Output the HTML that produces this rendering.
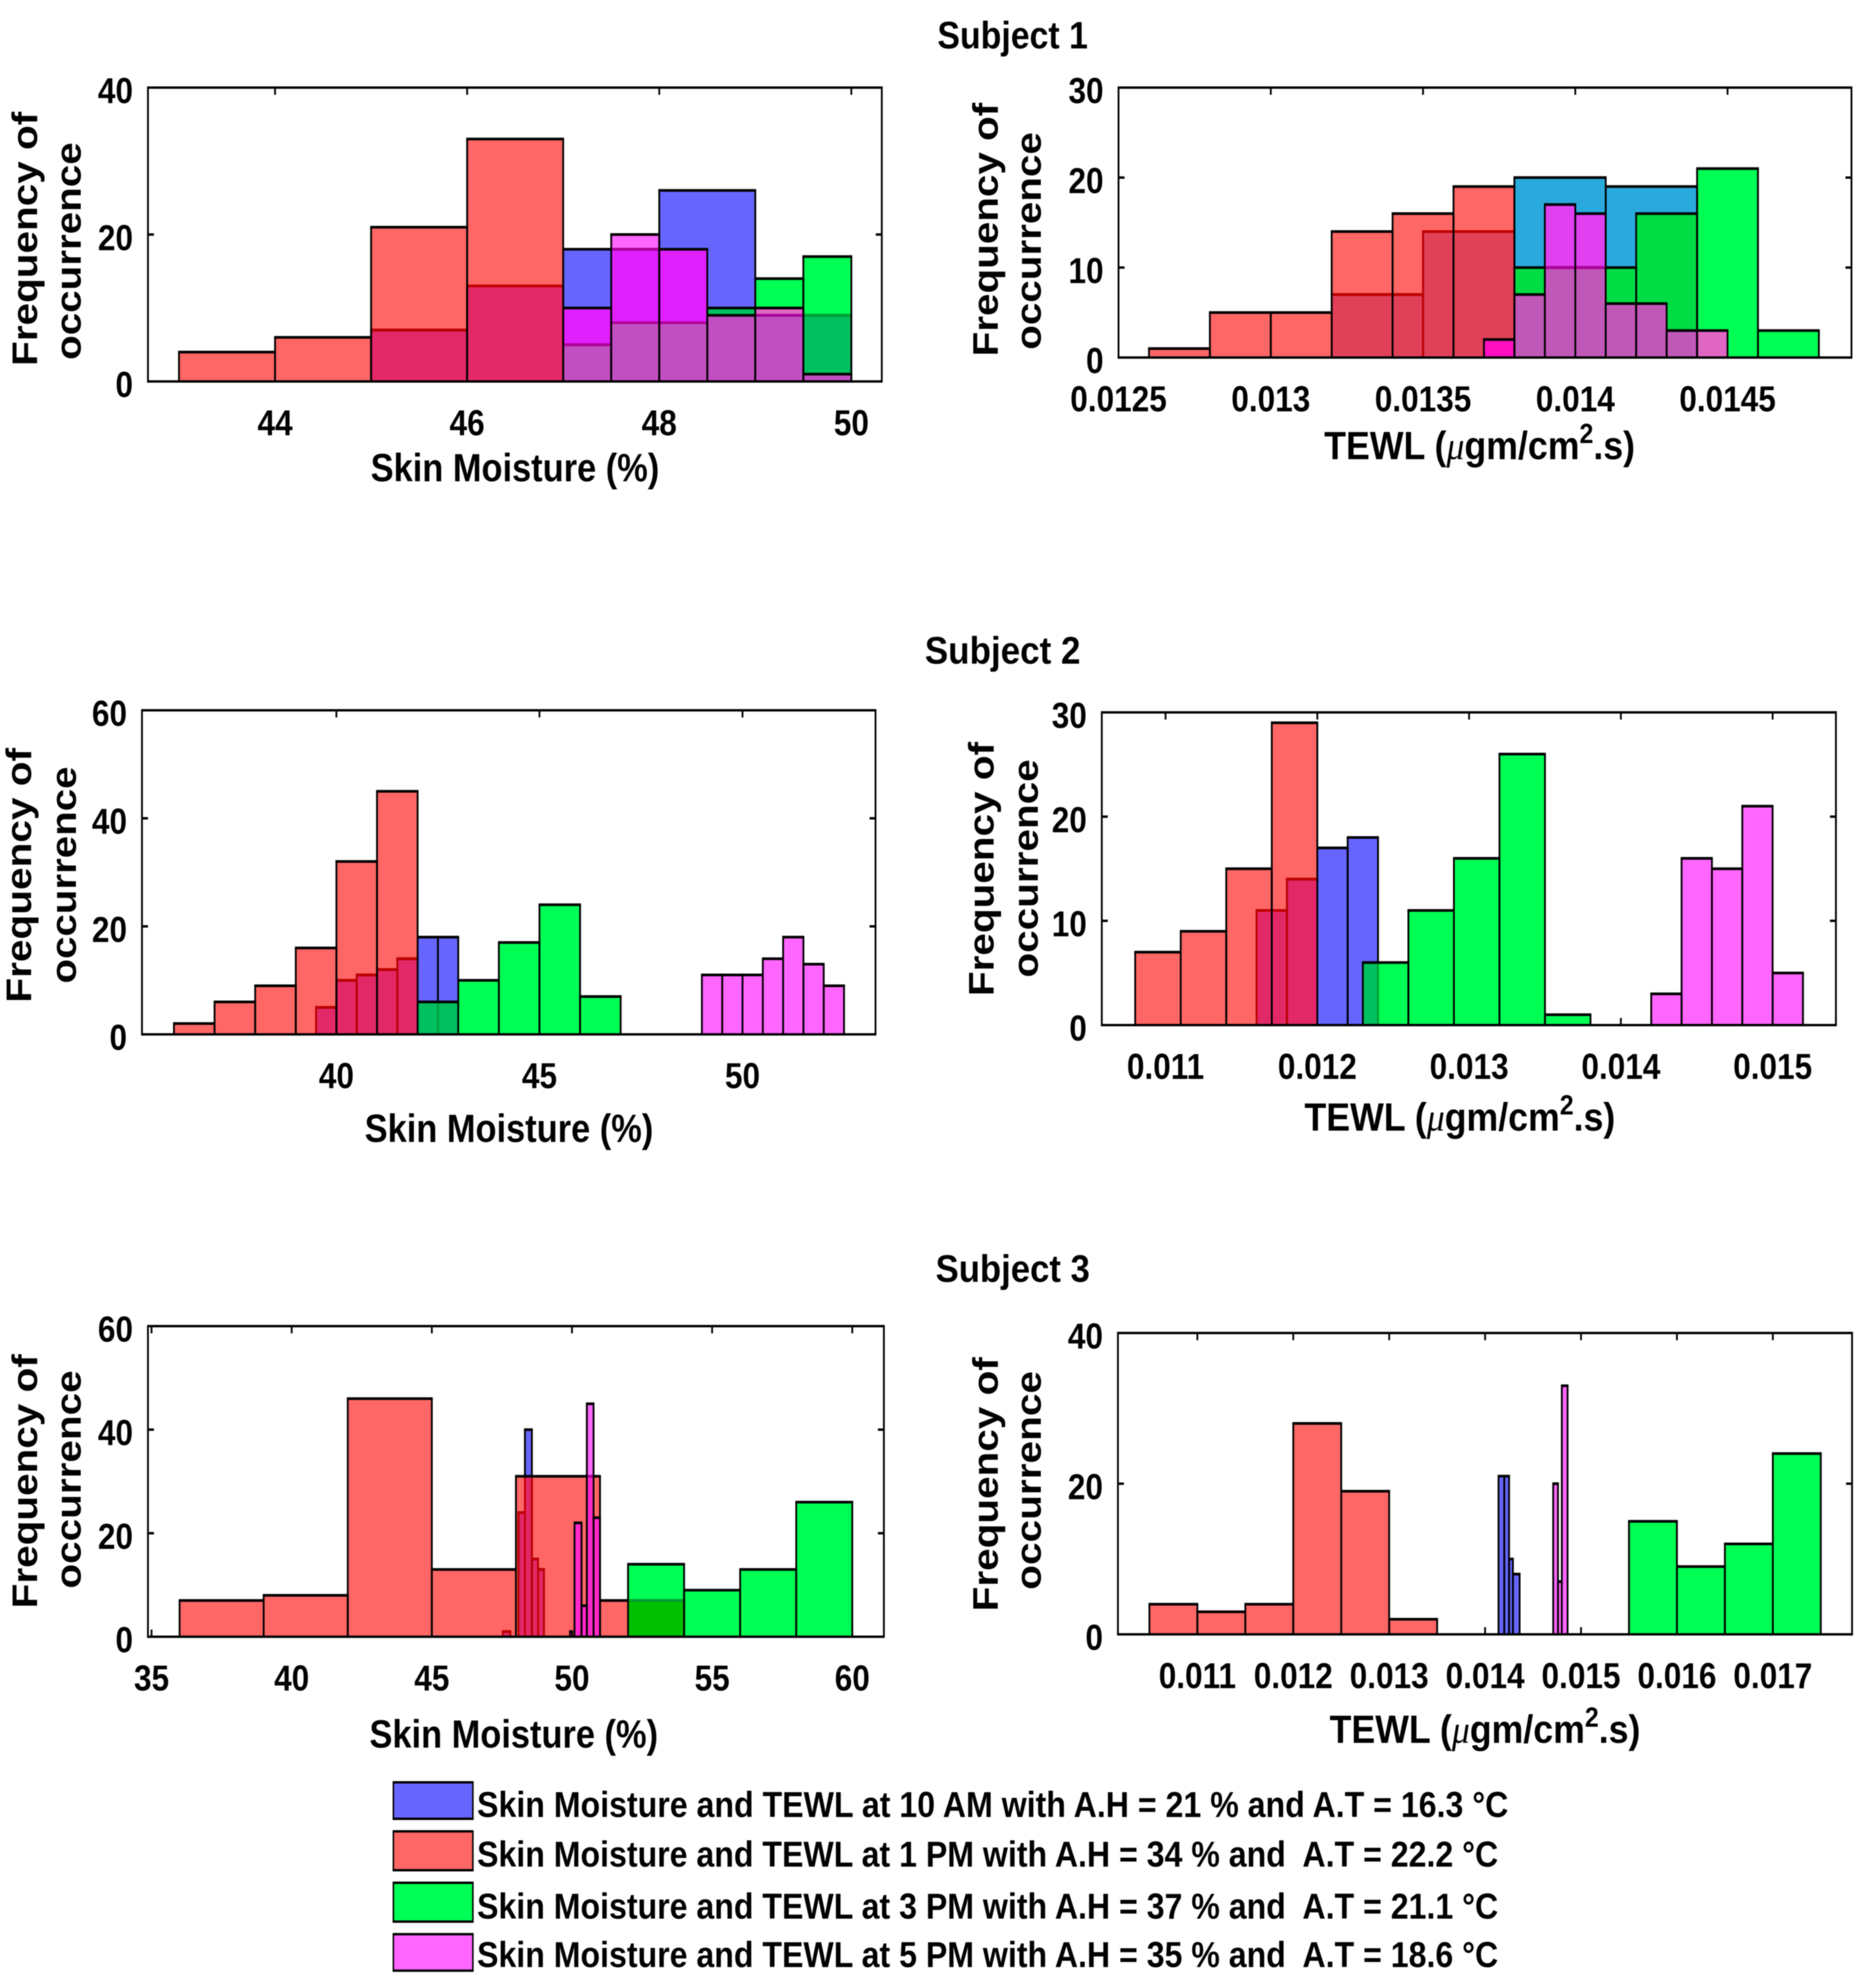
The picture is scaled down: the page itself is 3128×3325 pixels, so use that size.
<!DOCTYPE html>
<html lang="en">
<head>
<meta charset="utf-8">
<title>Skin moisture and TEWL histograms</title>
<style>
html,body{margin:0;padding:0;background:#fff;}
svg{display:block;filter:blur(0.7px);}
text{font-family:"Liberation Sans",sans-serif;font-weight:bold;fill:#000;white-space:pre;}
.mu{font-family:"Liberation Serif",serif;font-style:italic;font-weight:normal;}
</style>
</head>
<body>
<svg id="figure" xmlns="http://www.w3.org/2000/svg" width="3128" height="3325" viewBox="0 0 3128 3325">
  <rect x="0" y="0" width="3128" height="3325" fill="#fff"/>

  <text font-size="64" transform="translate(1568,81) scale(.885,1)">Subject 1</text>
  <text font-size="64" transform="translate(1547,1110) scale(.915,1)">Subject 2</text>
  <text font-size="64" transform="translate(1565,2144) scale(.907,1)">Subject 3</text>

  <text font-size="66" transform="translate(620,805) scale(.872,1)">Skin Moisture (%)</text>
  <text font-size="66" transform="translate(610,1910) scale(.872,1)">Skin Moisture (%)</text>
  <text font-size="66" transform="translate(618,2923) scale(.872,1)">Skin Moisture (%)</text>

  <text font-size="66" transform="translate(2215,768) scale(.905,1)">TEWL (<tspan class="mu">μ</tspan>gm/cm<tspan font-size="46" dy="-27">2</tspan><tspan dy="27">.s)</tspan></text>
  <text font-size="66" transform="translate(2182,1891) scale(.905,1)">TEWL (<tspan class="mu">μ</tspan>gm/cm<tspan font-size="46" dy="-27">2</tspan><tspan dy="27">.s)</tspan></text>
  <text font-size="66" transform="translate(2224,2915) scale(.905,1)">TEWL (<tspan class="mu">μ</tspan>gm/cm<tspan font-size="46" dy="-27">2</tspan><tspan dy="27">.s)</tspan></text>

  <text font-size="59" textLength="425" lengthAdjust="spacingAndGlyphs" transform="translate(62,612) rotate(-90)">Frequency of</text>
  <text font-size="59" textLength="364" lengthAdjust="spacingAndGlyphs" transform="translate(135,602) rotate(-90)">occurrence</text>
  <text font-size="59" textLength="424" lengthAdjust="spacingAndGlyphs" transform="translate(1669,596) rotate(-90)">Frequency of</text>
  <text font-size="59" textLength="364" lengthAdjust="spacingAndGlyphs" transform="translate(1741,585) rotate(-90)">occurrence</text>
  <text font-size="59" textLength="426" lengthAdjust="spacingAndGlyphs" transform="translate(52,1677) rotate(-90)">Frequency of</text>
  <text font-size="59" textLength="363" lengthAdjust="spacingAndGlyphs" transform="translate(127,1645) rotate(-90)">occurrence</text>
  <text font-size="59" textLength="425" lengthAdjust="spacingAndGlyphs" transform="translate(1662,1666) rotate(-90)">Frequency of</text>
  <text font-size="59" textLength="365" lengthAdjust="spacingAndGlyphs" transform="translate(1736,1635) rotate(-90)">occurrence</text>
  <text font-size="59" textLength="425" lengthAdjust="spacingAndGlyphs" transform="translate(62,2690) rotate(-90)">Frequency of</text>
  <text font-size="59" textLength="365" lengthAdjust="spacingAndGlyphs" transform="translate(135,2657) rotate(-90)">occurrence</text>
  <text font-size="59" textLength="425" lengthAdjust="spacingAndGlyphs" transform="translate(1669,2695) rotate(-90)">Frequency of</text>
  <text font-size="59" textLength="366" lengthAdjust="spacingAndGlyphs" transform="translate(1741,2659) rotate(-90)">occurrence</text>

  <g>
    <g>
      <rect x="658" y="2979" width="133" height="65" fill="#6666ff"/>
      <path d="M658 2979V3044M791 2979V3044" stroke="#000" stroke-width="2.5" fill="none"/>
      <path d="M657 2981H792M657 3042H792" stroke="#000" stroke-width="4" fill="none"/>
      <text x="798" y="3039" font-size="60" textLength="1725" lengthAdjust="spacingAndGlyphs">Skin Moisture and TEWL at 10 AM with A.H = 21 % and A.T = 16.3 °C</text>
    </g>
    <g>
      <rect x="658" y="3061" width="133" height="69" fill="#ff6666"/>
      <path d="M658 3061V3130M791 3061V3130" stroke="#000" stroke-width="2.5" fill="none"/>
      <path d="M657 3063H792M657 3128H792" stroke="#000" stroke-width="4" fill="none"/>
      <text x="798" y="3122" font-size="60" textLength="1708" lengthAdjust="spacingAndGlyphs">Skin Moisture and TEWL at 1 PM with A.H = 34 % and  A.T = 22.2 °C</text>
    </g>
    <g>
      <rect x="658" y="3147" width="133" height="69" fill="#00ff55"/>
      <path d="M658 3147V3216M791 3147V3216" stroke="#000" stroke-width="2.5" fill="none"/>
      <path d="M657 3149H792M657 3214H792" stroke="#000" stroke-width="4" fill="none"/>
      <text x="798" y="3209" font-size="60" textLength="1708" lengthAdjust="spacingAndGlyphs">Skin Moisture and TEWL at 3 PM with A.H = 37 % and  A.T = 21.1 °C</text>
    </g>
    <g>
      <rect x="658" y="3233" width="133" height="65" fill="#ff66ff"/>
      <path d="M658 3233V3298M791 3233V3298" stroke="#000" stroke-width="2.5" fill="none"/>
      <path d="M657 3235H792M657 3296H792" stroke="#000" stroke-width="4" fill="none"/>
      <text x="798" y="3290" font-size="60" textLength="1708" lengthAdjust="spacingAndGlyphs">Skin Moisture and TEWL at 5 PM with A.H = 35 % and  A.T = 18.6 °C</text>
    </g>
  </g>
</svg>

<script>
/* ---------- Subject 1, skin moisture ---------- */
const s1mBlueEdges = [45,46,47,48,49,50];
const s1mBlueCounts = [7,13,18,26,9];
const s1mRedEdges = [43,44,45,46,47];
const s1mRedCounts = [4,6,21,33];
const s1mGreenEdges = [47,47.5,48,48.5,49,49.5,50];
const s1mGreenCounts = [5,8,8,10,14,17];
const s1mMagentaEdges = [47,47.5,48,48.5,49,49.5,50];
const s1mMagentaCounts = [10,20,18,9,10,1];
const s1mXTickLabels = ['44','46','48','50'];
const s1mYTickLabels = ['0','20','40'];
const s1mXDomain = [42.677,50.317];

/* ---------- Subject 1, TEWL ---------- */
const s1tBlueEdges = [0.0132,0.0135,0.0138,0.0141,0.0144];
const s1tBlueCounts = [7,14,20,19];
const s1tRedEdges = [0.0126,0.0128,0.013,0.0132,0.0134,0.0136,0.0138];
const s1tRedCounts = [1,5,5,14,16,19];
const s1tGreenEdges = [0.0138,0.014,0.0142,0.0144,0.0146,0.0148];
const s1tGreenCounts = [10,10,16,21,3];
const s1tMagentaEdges = [0.0137,0.0138,0.0139,0.014,0.0141,0.0142,0.0143,0.0144,0.0145];
const s1tMagentaCounts = [2,7,17,16,6,6,3,3];
const s1tXTickLabels = ['0.0125','0.013','0.0135','0.014','0.0145'];
const s1tYTickLabels = ['0','10','20','30'];
const s1tXDomain = [0.0125,0.014907];

/* ---------- Subject 2, skin moisture ---------- */
const s2mBlueEdges = [39.5,40,40.5,41,41.5,42,42.5,43];
const s2mBlueCounts = [5,10,11,12,14,18,18];
const s2mRedEdges = [36,37,38,39,40,41,42];
const s2mRedCounts = [2,6,9,16,32,45];
const s2mGreenEdges = [42,43,44,45,46,47];
const s2mGreenCounts = [6,10,17,24,7];
const s2mMagentaEdges = [49,49.5,50,50.5,51,51.5,52,52.5];
const s2mMagentaCounts = [11,11,11,14,18,13,9];
const s2mXTickLabels = ['40','45','50'];
const s2mYTickLabels = ['0','20','40','60'];
const s2mXDomain = [35.213,53.275];

/* ---------- Subject 2, TEWL ---------- */
const s2tBlueEdges = [0.0116,0.0118,0.012,0.0122,0.0124];
const s2tBlueCounts = [11,14,17,18];
const s2tRedEdges = [0.0108,0.0111,0.0114,0.0117,0.012];
const s2tRedCounts = [7,9,15,29];
const s2tGreenEdges = [0.0123,0.0126,0.0129,0.0132,0.0135,0.0138];
const s2tGreenCounts = [6,11,16,26,1];
const s2tMagentaEdges = [0.0142,0.0144,0.0146,0.0148,0.015,0.0152];
const s2tMagentaCounts = [3,16,15,21,5];
const s2tXTickLabels = ['0.011','0.012','0.013','0.014','0.015'];
const s2tYTickLabels = ['0','10','20','30'];
const s2tXDomain = [0.01058,0.015417];

/* ---------- Subject 3, skin moisture ---------- */
const s3mBlueEdges = [47.53,47.8,48.09,48.32,48.57,48.79,49];
const s3mBlueCounts = [1,0,24,40,15,13];
const s3mRedEdges = [36,39,42,45,48,51,54];
const s3mRedCounts = [7,8,46,13,31,7];
const s3mGreenEdges = [52,54,56,58,60];
const s3mGreenCounts = [14,9,13,26];
const s3mMagentaEdges = [49.93,50.01,50.09,50.34,50.53,50.77,51];
const s3mMagentaCounts = [1,0,22,6,45,23];
const s3mXTickLabels = ['35','40','45','50','55','60'];
const s3mYTickLabels = ['0','20','40','60'];
const s3mXDomain = [34.872,61.128];

/* ---------- Subject 3, TEWL ---------- */
const s3tBlueEdges = [0.01414,0.0142,0.01425,0.01429,0.01436];
const s3tBlueCounts = [21,21,10,8];
const s3tRedEdges = [0.0105,0.011,0.0115,0.012,0.0125,0.013,0.0135];
const s3tRedCounts = [4,3,4,28,19,2];
const s3tGreenEdges = [0.0155,0.016,0.0165,0.017,0.0175];
const s3tGreenCounts = [15,9,12,24];
const s3tMagentaEdges = [0.01471,0.01476,0.0148,0.01486];
const s3tMagentaCounts = [20,7,33];
const s3tXTickLabels = ['0.011','0.012','0.013','0.014','0.015','0.016','0.017'];
const s3tYTickLabels = ['0','20','40'];
const s3tXDomain = [0.010172,0.017826];

/* Fill colour for each overlap combination: blue=1, red=2, green=4, magenta=8 */
const overlapColors = {1:'#6666ff',2:'#ff6666',3:'#e32868',4:'#00ff55',5:'#00c060',6:'#00c000',7:'#00c000',8:'#ff66ff',9:'#e020ff',10:'#ff28c8',11:'#ff28c8',12:'#e066c4',13:'#c24fc2',14:'#c24fc2',15:'#c24fc2'};
const overlapColorsS1Tewl = {1:'#2aaadc',2:'#ff6666',3:'#e04058',4:'#00ff55',5:'#00dd44',6:'#00c000',7:'#00c000',8:'#ff66ff',9:'#e040f0',10:'#ff10c0',11:'#ff10c0',12:'#e066c4',13:'#c058b8',14:'#c058b8',15:'#c058b8'};
const seriesNames = ['10am','1pm','3pm','5pm'];
const seriesTints = ['#000000','#c00000','#00a030','#b0009a'];

const panels = [
  {id:'s1-moisture',box:[247.5,146.5,1475,638],xDomain:s1mXDomain,xLabels:s1mXTickLabels,yLabels:s1mYTickLabels,colors:overlapColors,
   edges:[s1mBlueEdges,s1mRedEdges,s1mGreenEdges,s1mMagentaEdges],counts:[s1mBlueCounts,s1mRedCounts,s1mGreenCounts,s1mMagentaCounts]},
  {id:'s1-tewl',box:[1871,146.5,3097,598],xDomain:s1tXDomain,xLabels:s1tXTickLabels,yLabels:s1tYTickLabels,colors:overlapColorsS1Tewl,
   edges:[s1tBlueEdges,s1tRedEdges,s1tGreenEdges,s1tMagentaEdges],counts:[s1tBlueCounts,s1tRedCounts,s1tGreenCounts,s1tMagentaCounts]},
  {id:'s2-moisture',box:[237.5,1188,1464.5,1730],xDomain:s2mXDomain,xLabels:s2mXTickLabels,yLabels:s2mYTickLabels,colors:overlapColors,
   edges:[s2mBlueEdges,s2mRedEdges,s2mGreenEdges,s2mMagentaEdges],counts:[s2mBlueCounts,s2mRedCounts,s2mGreenCounts,s2mMagentaCounts]},
  {id:'s2-tewl',box:[1843,1191.5,3071,1714.5],xDomain:s2tXDomain,xLabels:s2tXTickLabels,yLabels:s2tYTickLabels,colors:overlapColors,
   edges:[s2tBlueEdges,s2tRedEdges,s2tGreenEdges,s2tMagentaEdges],counts:[s2tBlueCounts,s2tRedCounts,s2tGreenCounts,s2tMagentaCounts]},
  {id:'s3-moisture',box:[247.5,2218,1478.5,2737.5],xDomain:s3mXDomain,xLabels:s3mXTickLabels,yLabels:s3mYTickLabels,colors:overlapColors,
   edges:[s3mBlueEdges,s3mRedEdges,s3mGreenEdges,s3mMagentaEdges],counts:[s3mBlueCounts,s3mRedCounts,s3mGreenCounts,s3mMagentaCounts]},
  {id:'s3-tewl',box:[1870,2229.5,3098,2733.5],xDomain:s3tXDomain,xLabels:s3tXTickLabels,yLabels:s3tYTickLabels,colors:overlapColors,
   edges:[s3tBlueEdges,s3tRedEdges,s3tGreenEdges,s3tMagentaEdges],counts:[s3tBlueCounts,s3tRedCounts,s3tGreenCounts,s3tMagentaCounts]}
];

const NS = 'http://www.w3.org/2000/svg';
const figure = document.getElementById('figure');

function mk(tag, parent, attrs) {
  const el = document.createElementNS(NS, tag);
  for (const k in attrs) el.setAttribute(k, attrs[k]);
  parent.appendChild(el);
  return el;
}

function barOutlines(parent, bar, xs, ys, stroke) {
  const x0 = xs(bar.x0), x1 = xs(bar.x1), top = ys(bar.h), base = ys(0);
  const sides = mk('path', parent, {d:'M'+x0+' '+base+'V'+top+'M'+x1+' '+base+'V'+top, stroke:stroke, 'stroke-width':3, fill:'none'});
  
  
  const cap = mk('path', parent, {d:'M'+(x0-1.5)+' '+top+'H'+(x1+1.5), stroke:stroke, 'stroke-width':4.5, fill:'none'});
  
  
}

panels.forEach(function (p) {
  const left = p.box[0], top = p.box[1], right = p.box[2], bottom = p.box[3];
  const yMax = Number(p.yLabels[p.yLabels.length - 1]);
  const xs = function (v) { return left + (v - p.xDomain[0]) / (p.xDomain[1] - p.xDomain[0]) * (right - left); };
  const ys = function (v) { return bottom - v / yMax * (bottom - top); };

  const g = mk('g', figure, {});
  
  

  /* tick marks, drawn beneath the bars */
  p.xLabels.forEach(function (label) {
    const x = xs(Number(label));
    const tick = mk('path', g, {d:'M'+x+' '+top+'v12M'+x+' '+bottom+'v-12', stroke:'#000', 'stroke-width':3, fill:'none'});
    
    
    const text = mk('text', g, {'font-size':60, 'text-anchor':'middle', transform:'translate('+x+','+(bottom+90)+') scale(.88,1)'});
    text.textContent = label;
    
    
  });
  p.yLabels.forEach(function (label) {
    const y = ys(Number(label));
    const tick = mk('path', g, {d:'M'+left+' '+y+'h10M'+right+' '+y+'h-10', stroke:'#000', 'stroke-width':4, fill:'none'});
    
    
    const text = mk('text', g, {'font-size':60, 'text-anchor':'end', transform:'translate('+(left-25)+','+(y+26)+') scale(.88,1)'});
    text.textContent = label;
    
    
  });

  /* collect bars per series from the data arrays */
  const bars = [];
  p.counts.forEach(function (counts, s) {
    counts.forEach(function (h, i) {
      if (h > 0) bars.push({s:s, x0:p.edges[s][i], x1:p.edges[s][i + 1], h:h});
    });
  });

  /* filled segments: each column is split at every bar height so overlaps get their own colour */
  const fills = mk('g', g, {});
  
  
  const stops = Array.from(new Set(bars.reduce(function (a, b) { a.push(b.x0, b.x1); return a; }, []))).sort(function (a, b) { return a - b; });
  for (let i = 0; i < stops.length - 1; i++) {
    const xa = stops[i], xb = stops[i + 1];
    const active = bars.filter(function (b) { return b.x0 <= xa && b.x1 >= xb; });
    const heights = Array.from(new Set(active.map(function (b) { return b.h; }))).sort(function (a, b) { return a - b; });
    let prev = 0;
    heights.forEach(function (h) {
      let mask = 0;
      active.forEach(function (b) { if (b.h >= h) mask |= 1 << b.s; });
      const seg = mk('rect', fills, {x:xs(xa), y:ys(h), width:xs(xb) - xs(xa) + 0.4, height:ys(prev) - ys(h) + 0.4, fill:p.colors[mask]});
      
      
      prev = h;
    });
  }

  /* clip regions used to tint the outlines of series lying under a later series */
  const defs = mk('defs', g, {});
  for (let s = 0; s < 4; s++) {
    const clip = mk('clipPath', defs, {id:p.id + '-clip-' + s});
    bars.filter(function (b) { return b.s === s; }).forEach(function (b) {
      mk('rect', clip, {x:xs(b.x0), y:ys(b.h), width:xs(b.x1) - xs(b.x0), height:ys(0) - ys(b.h)});
    });
  }

  /* outlines in stacking order, black then tinted where a later series covers them */
  for (let s = 0; s < 4; s++) {
    const series = mk('g', g, {});
    
    
    const own = bars.filter(function (b) { return b.s === s; });
    own.forEach(function (b) { barOutlines(series, b, xs, ys, '#000'); });
    for (let t = s + 1; t < 4; t++) {
      const layer = mk('g', series, {'clip-path':'url(#' + p.id + '-clip-' + t + ')'});
      
      
      own.forEach(function (b) { barOutlines(layer, b, xs, ys, seriesTints[t]); });
    }
  }

  /* axes frame */
  const frame = mk('path', g, {d:'M'+left+' '+(top-2)+'V'+(bottom+2)+'M'+right+' '+(top-2)+'V'+(bottom+2), stroke:'#000', 'stroke-width':3, fill:'none'});
  
  
  const rules = mk('path', g, {d:'M'+(left-1.5)+' '+top+'H'+(right+1.5)+'M'+(left-1.5)+' '+bottom+'H'+(right+1.5), stroke:'#000', 'stroke-width':4, fill:'none'});
  
  
});
</script>
</body>
</html>
